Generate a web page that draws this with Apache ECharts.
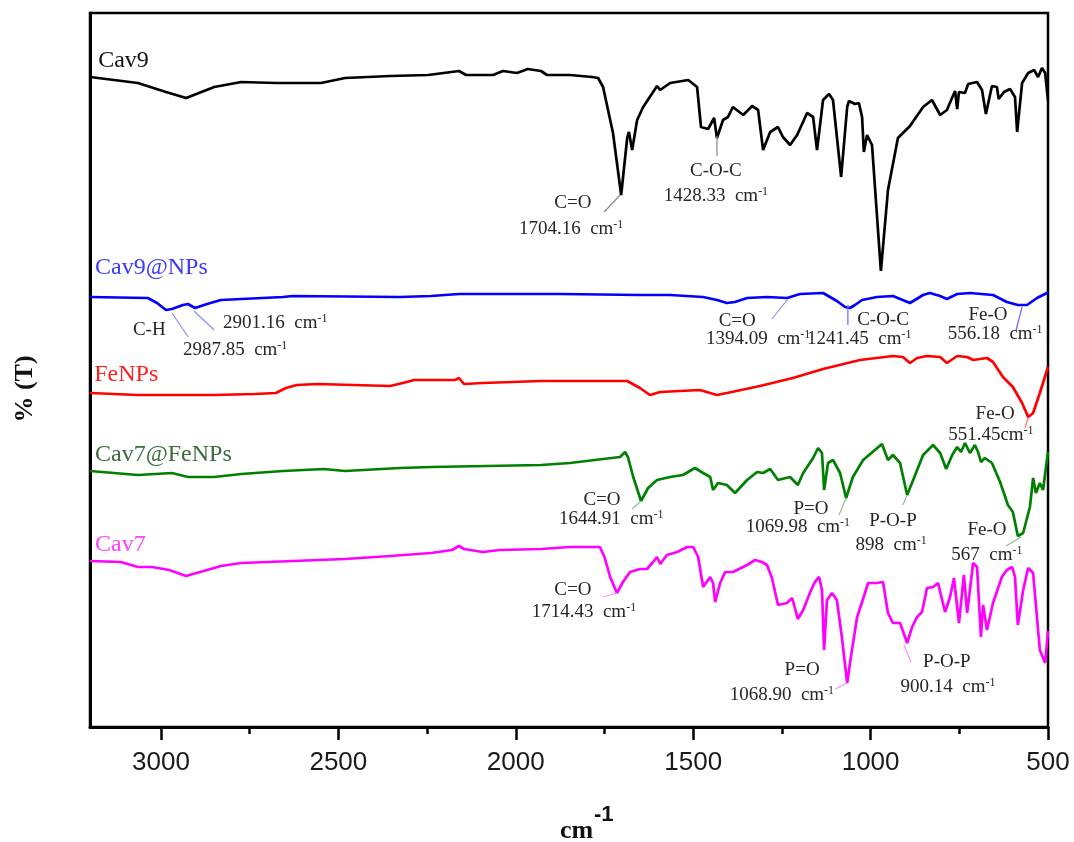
<!DOCTYPE html>
<html lang="en">
<head>
<meta charset="UTF-8">
<title>FTIR spectra</title>
<script src="https://cdn.jsdelivr.net/npm/echarts@6/dist/echarts.min.js"></script>
<style>
    html, body { margin: 0; padding: 0; background: #fff; }
    #main { width: 1074px; height: 842px; }
</style>
</head>
<body>
<div id="main"></div>
<script>
// [wavenumber cm-1, %T (offset units, stacked)]
const cav9 = [[3200,65.0],[3065,64.4],[2986,63.5],[2929,62.9],[2850,64.0],[2774,64.5],[2676,64.4],[2549,64.4],[2481,64.9],[2354,65.1],[2247,65.2],[2160,65.6],[2140,65.2],[2064,65.2],[2036,65.6],[1997,65.4],[1966,65.8],[1929,65.6],[1912,65.2],[1847,65.2],[1785,65.0],[1768,64.9],[1754,64.0],[1726,59.4],[1703,53.2],[1686,58.9],[1681,59.5],[1672,57.7],[1658,60.7],[1641,62.0],[1613,63.5],[1602,64.1],[1593,63.7],[1565,64.4],[1514,64.7],[1489,64.0],[1478,60.0],[1458,59.8],[1441,60.9],[1433,58.9],[1416,60.7],[1402,61.0],[1388,62.0],[1359,61.2],[1334,62.1],[1317,61.7],[1303,57.7],[1283,59.5],[1261,60.0],[1247,59.0],[1227,58.2],[1207,59.2],[1179,61.4],[1162,61.0],[1151,57.7],[1134,62.7],[1117,63.3],[1106,62.7],[1083,55.0],[1066,62.0],[1061,62.6],[1044,62.3],[1033,62.4],[1024,61.0],[1019,57.5],[1010,59.2],[996,58.2],[971,45.6],[951,53.7],[923,58.9],[889,60.1],[852,62.0],[827,62.7],[804,61.2],[785,61.7],[762,63.6],[756,61.8],[751,63.5],[734,63.4],[725,64.3],[700,64.5],[686,63.7],[675,61.3],[658,64.1],[644,64.0],[639,62.8],[624,63.5],[607,63.8],[593,63.0],[587,59.5],[573,64.4],[556,65.4],[539,65.7],[528,65.0],[517,65.9],[508,65.4],[500,62.7]];

const cav9NPs = [[3200,43.0],[3037,42.9],[3011,42.4],[2986,41.7],[2969,41.8],[2938,42.2],[2924,42.3],[2904,41.9],[2870,42.3],[2831,42.7],[2656,43.0],[2628,43.1],[2326,43.0],[2239,43.1],[2160,43.3],[1929,43.3],[1875,43.3],[1650,43.2],[1565,43.2],[1472,43.0],[1433,42.7],[1405,42.4],[1382,42.5],[1348,42.9],[1292,43.0],[1235,42.9],[1199,43.3],[1134,43.4],[1095,42.6],[1072,42.0],[1058,41.9],[1044,42.2],[1024,42.7],[982,43.0],[937,43.1],[889,42.4],[852,43.2],[833,43.4],[804,43.1],[785,42.8],[756,43.3],[720,43.4],[655,43.2],[616,42.5],[585,42.2],[559,42.2],[531,42.9],[503,43.4],[500,43.5]];

const feNPs = [[3200,33.4],[3065,33.2],[2850,33.2],[2735,33.3],[2676,33.4],[2648,33.9],[2617,34.2],[2560,34.3],[2354,34.1],[2307,34.5],[2287,34.7],[2171,34.7],[2160,34.9],[2146,34.3],[2093,34.4],[1929,34.6],[1875,34.6],[1686,34.6],[1650,33.9],[1622,33.2],[1593,33.5],[1481,33.7],[1433,33.2],[1405,33.4],[1312,34.1],[1219,34.9],[1134,35.8],[1030,36.7],[937,37.1],[909,37.0],[889,36.4],[869,36.9],[841,37.1],[804,37.0],[785,36.4],[756,37.1],[728,37.0],[711,36.7],[672,36.9],[655,36.5],[627,35.0],[599,34.0],[573,32.4],[556,31.0],[542,31.4],[523,33.4],[500,36.0]];

const cav7FeNPs = [[3200,25.6],[3065,25.2],[2969,25.4],[2924,25.0],[2850,25.0],[2774,25.3],[2656,25.6],[2541,25.8],[2481,25.6],[2326,25.9],[2239,26.0],[1929,26.2],[1847,26.4],[1754,26.8],[1706,27.0],[1692,27.5],[1684,27.0],[1669,25.0],[1647,22.6],[1627,23.9],[1602,24.7],[1565,25.0],[1529,25.2],[1495,25.9],[1472,25.4],[1452,25.0],[1444,23.7],[1430,24.4],[1405,24.2],[1382,23.4],[1348,24.7],[1320,25.5],[1303,25.4],[1283,25.8],[1261,24.7],[1227,25.0],[1205,24.2],[1190,25.4],[1162,26.9],[1148,27.9],[1137,27.4],[1131,23.7],[1126,23.7],[1120,26.4],[1106,26.7],[1086,25.4],[1069,22.9],[1050,25.0],[1021,26.7],[968,28.3],[951,26.7],[937,27.2],[917,26.4],[897,23.2],[880,24.7],[852,27.2],[824,28.2],[804,27.4],[787,25.8],[770,27.2],[756,28.0],[745,27.5],[734,28.4],[720,27.4],[706,28.2],[697,27.5],[689,26.5],[678,26.9],[658,26.4],[635,24.5],[613,22.2],[599,21.5],[585,19.1],[570,19.4],[551,22.0],[542,24.9],[534,23.4],[523,24.4],[514,23.7],[503,26.7],[500,27.5]];

const cav7 = [[3200,16.6],[3113,16.5],[3065,16.0],[3025,16.0],[2977,15.7],[2929,15.1],[2890,15.5],[2831,16.1],[2774,16.4],[2628,16.6],[2481,16.8],[2354,17.1],[2239,17.4],[2180,17.7],[2160,18.1],[2146,17.8],[2093,17.5],[2045,17.7],[1929,17.8],[1847,18.0],[1763,18.0],[1750,17.0],[1734,15.0],[1715,13.4],[1698,14.5],[1678,15.5],[1650,15.8],[1630,15.8],[1613,16.5],[1602,17.0],[1593,16.3],[1574,17.2],[1545,17.5],[1517,18.0],[1500,18.0],[1486,17.0],[1472,14.0],[1452,15.0],[1444,14.4],[1438,12.5],[1424,14.4],[1410,15.5],[1388,15.5],[1348,16.2],[1326,16.7],[1306,16.5],[1292,16.2],[1278,14.9],[1261,12.2],[1236,12.4],[1221,12.9],[1205,10.8],[1190,11.7],[1170,13.5],[1157,14.5],[1145,15.0],[1137,13.7],[1131,7.7],[1123,12.7],[1109,13.4],[1095,12.7],[1081,9.0],[1066,4.4],[1058,6.4],[1038,11.0],[1024,12.5],[1007,14.4],[982,14.4],[965,14.5],[951,11.4],[937,10.4],[917,10.4],[897,8.4],[883,10.0],[869,11.0],[855,11.5],[841,13.9],[824,14.0],[810,14.4],[790,11.5],[776,13.0],[765,14.9],[751,10.4],[737,15.2],[728,11.4],[711,16.4],[700,16.0],[689,9.0],[683,12.2],[672,9.7],[655,12.4],[630,15.0],[616,15.7],[601,16.0],[593,15.0],[585,10.2],[570,13.7],[556,15.9],[542,15.4],[523,7.7],[508,6.4],[503,8.4],[500,9.6]];

const majorTicks = [3000, 2500, 2000, 1500, 1000, 500];
const minorTicks = [2750, 2250, 1750, 1250, 750];

const seriesList = [
    { name: 'Cav9', data: cav9, color: '#000000', labelColor: '#111111', pos: [3177, 66.6] },
    { name: 'Cav9@NPs', data: cav9NPs, color: '#0000ff', labelColor: '#3b3bff', pos: [3186, 45.9] },
    { name: 'FeNPs', data: feNPs, color: '#ff0000', labelColor: '#ff2020', pos: [3188, 35.2] },
    { name: 'Cav7@FeNPs', data: cav7FeNPs, color: '#008000', labelColor: '#3d6b3d', pos: [3186, 27.2] },
    { name: 'Cav7', data: cav7, color: '#ff00ff', labelColor: '#ff40ff', pos: [3186, 18.2] }
];

// peak notes: [text, wavenumber, T]  ('^' starts superscript)
const notes = [
    ['C=O', 1839, 52.4], ['1704.16  cm^-1', 1844, 49.8],
    ['C-O-C', 1436, 55.6], ['1428.33  cm^-1', 1436, 53.1],
    ['C-H', 3033, 39.7], ['2901.16  cm^-1', 2678, 40.4], ['2987.85  cm^-1', 2791, 37.7],
    ['C=O', 1376, 40.6], ['1394.09  cm^-1', 1317, 38.8],
    ['C-O-C', 965, 40.7], ['1241.45  cm^-1', 1032, 38.8],
    ['Fe-O', 669, 41.2], ['556.18  cm^-1', 649, 39.3],
    ['Fe-O', 649, 31.3], ['551.45cm^-1', 661, 29.2],
    ['C=O', 1757, 22.7], ['1644.91  cm^-1', 1731, 20.8],
    ['P=O', 1168, 21.8], ['1069.98  cm^-1', 1205, 20.0],
    ['P-O-P', 937, 20.6], ['898  cm^-1', 942, 18.2],
    ['Fe-O', 672, 19.7], ['567  cm^-1', 672, 17.2],
    ['C=O', 1839, 13.7], ['1714.43  cm^-1', 1808, 11.5],
    ['P=O', 1193, 5.7], ['1068.90  cm^-1', 1250, 3.2],
    ['P-O-P', 785, 6.5], ['900.14  cm^-1', 782, 4.0]
];

// leader lines: [w1, t1, w2, t2, colour]
const leaders = [
    [1751, 51.5, 1706, 53.2, '#888888'],
    [1433, 57.1, 1433, 59.1, '#888888'],
    [2969, 41.4, 2923, 39.0, '#8c8cff'],
    [2907, 41.6, 2850, 39.7, '#8c8cff'],
    [1233, 42.8, 1278, 40.8, '#8c8cff'],
    [1064, 42.2, 1064, 40.2, '#6a6aff'],
    [573, 42.0, 590, 39.7, '#6a6aff'],
    [556, 30.9, 565, 29.9, '#ff7070'],
    [1647, 22.6, 1672, 21.8, '#8fbf8f'],
    [1069, 22.9, 1089, 21.2, '#8fbf8f'],
    [897, 23.2, 909, 22.2, '#8fbf8f'],
    [576, 19.0, 618, 18.1, '#8fbf8f'],
    [1715, 13.4, 1754, 13.0, '#ff8cff'],
    [1066, 4.4, 1100, 3.8, '#ff8cff'],
    [906, 8.2, 886, 6.5, '#ff8cff']
];

const serif = '"Liberation Serif", "Times New Roman", serif';
const sans = '"Liberation Sans", Arial, sans-serif';

let chart = echarts.init(document.getElementById('main'));

let option = {
    animation: false,
    backgroundColor: '#ffffff',
    grid: {
        left: 90, right: 26, top: 13, bottom: 115,
        show: true, borderColor: '#000', borderWidth: 2.5, backgroundColor: 'transparent'
    },
    xAxis: [
        {
            type: 'value', inverse: true, min: 500, max: 3200, interval: 500,
            position: 'bottom',
            axisLine: { show: true, lineStyle: { color: '#000', width: 3 } },
            axisTick: { show: true, customValues: majorTicks, length: 13, lineStyle: { color: '#000', width: 2.5 } },
            axisLabel: {
                customValues: majorTicks, margin: 23, fontSize: 26, fontFamily: sans, color: '#1a1a1a',
                formatter: v => String(v)
            },
            splitLine: { show: false }
        },
        {
            type: 'value', inverse: true, min: 500, max: 3200, interval: 500,
            position: 'bottom',
            axisLine: { show: false },
            axisTick: { show: true, customValues: minorTicks, length: 7, lineStyle: { color: '#000', width: 2.5 } },
            axisLabel: { show: false },
            splitLine: { show: false }
        }
    ],
    yAxis: {
        type: 'value', min: 0, max: 71.4,
        axisLine: { show: true, lineStyle: { color: '#000', width: 3 } },
        axisTick: { show: false },
        axisLabel: { show: false },
        splitLine: { show: false }
    },
    series: seriesList.map(s => ({
        name: s.name,
        type: 'line',
        data: s.data,
        showSymbol: false,
        lineStyle: { color: s.color, width: 2.7 },
        itemStyle: { color: s.color }
    }))
};

chart.setOption(option);

function toRich(txt) {
    let parts = txt.split('^');
    return parts.length > 1 ? `{n|${parts[0]}}{s|${parts[1]}}` : `{n|${parts[0]}}`;
}

let graphics = [];
let px = (w, t) => chart.convertToPixel({ seriesIndex: 0 }, [w, t]);

for (let s of seriesList) {
    let p = px(s.pos[0], s.pos[1]);
    graphics.push({
        type: 'text', x: p[0], y: p[1], z: 100,
        style: { text: s.name, fill: s.labelColor, font: '24px ' + serif, align: 'left', verticalAlign: 'middle' }
    });
}

for (let l of leaders) {
    let a = px(l[0], l[1]), b = px(l[2], l[3]);
    graphics.push({
        type: 'line', z: 90,
        shape: { x1: a[0], y1: a[1], x2: b[0], y2: b[1] },
        style: { stroke: l[4], lineWidth: 1.2 }
    });
}

for (let n of notes) {
    let p = px(n[1], n[2]);
    graphics.push({
        type: 'text', x: p[0], y: p[1], z: 100,
        style: {
            text: toRich(n[0]), align: 'center', verticalAlign: 'middle',
            rich: {
                n: { fontSize: 19, fontFamily: serif, fill: '#262626', lineHeight: 20 },
                s: { fontSize: 12, fontFamily: serif, fill: '#262626', verticalAlign: 'top', lineHeight: 12 }
            }
        }
    });
}

// axis titles
graphics.push({
    type: 'text', x: 25, y: 389, rotation: Math.PI / 2, z: 100,
    style: { text: '% (T)', font: 'bold 26px ' + serif, fill: '#111', align: 'center', verticalAlign: 'middle' }
});
graphics.push({
    type: 'text', x: 560, y: 831, z: 100,
    style: { text: 'cm', font: 'bold 26px ' + serif, fill: '#111', align: 'left', verticalAlign: 'middle' }
});
graphics.push({
    type: 'text', x: 594, y: 815, z: 100,
    style: { text: '-1', font: 'bold 22px ' + sans, fill: '#111', align: 'left', verticalAlign: 'middle' }
});

chart.setOption({ graphic: graphics });
</script>
</body>
</html>
